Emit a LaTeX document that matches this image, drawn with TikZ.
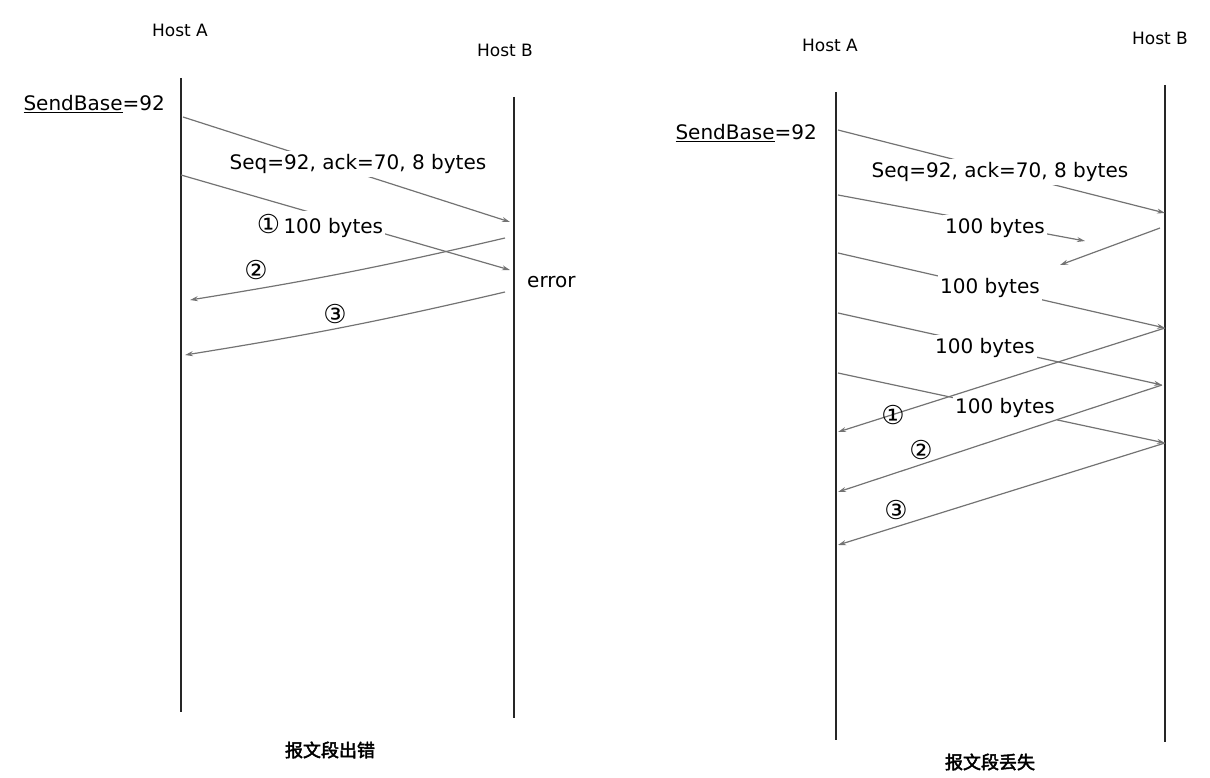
\documentclass[tikz,border=0pt]{standalone}
\usepackage{fontspec}
\setmainfont{DejaVu Sans}
\newfontfamily\cjk[AutoFakeBold=2.5]{Noto Sans CJK SC}
\usetikzlibrary{arrows.meta,positioning}

\begin{document}
\begin{tikzpicture}[
    x=1pt, y=-1pt,
    host/.style={font=\fontsize{17}{20}\selectfont, inner sep=1pt},
    life/.style={line width=1.3pt, black!85},
    msg/.style={line width=1.2pt, black!55, -{Stealth[length=8pt,width=5pt]}},
    lbl/.style={font=\fontsize{20}{24}\selectfont, fill=white, inner xsep=2pt, inner ysep=3pt},
    tag/.style={font=\fontsize{20}{24}\selectfont, inner sep=1pt},
    num/.style={font=\fontsize{26}{28}\selectfont, inner sep=0pt},
    caption/.style={font=\cjk\bfseries\fontsize{18}{21}\selectfont}
]
\useasboundingbox (0,0) rectangle (1210,778);

% Segment error
\node[host] (hostAl) at (180,30) {Host A};
\node[host] (hostBl) at (505,50) {Host B};
\coordinate (Al-top) at (181,78);
\coordinate (Al-bot) at (181,712);
\coordinate (Bl-top) at (514,97);
\coordinate (Bl-bot) at (514,718);
\draw[life] (Al-top) -- (Al-bot);
\draw[life] (Bl-top) -- (Bl-bot);
\node[tag, anchor=east] (baseL) at (166,104) {\underline{SendBase}=92};

\coordinate (Al1) at (183,117);
\coordinate (Bl1) at (510,222);
\coordinate (Al2) at (181,175);
\coordinate (Bl2) at (510,270);
\draw[msg] (Al1) -- (Bl1);
\node[lbl] (seqL) at (358,164) {Seq=92, ack=70, 8 bytes};
\draw[msg] (Al2) -- (Bl2);
\node[lbl] (segL) at (320,226) {{\fontsize{26}{28}\selectfont ①}\,100 bytes};
\node[tag, anchor=west] (err) at (526,282) {error};

% acks back to A
\coordinate (Bl3) at (505,238);
\coordinate (Al3) at (190,300);
\coordinate (Bl4) at (505,292);
\coordinate (Al4) at (185,355);
\draw[msg] (Bl3) to[bend left=2] (Al3);
\draw[msg] (Bl4) to[bend left=2] (Al4);
\node[num] (ackL2) at (256,270) {②};
\node[num] (ackL3) at (335,314) {③};

\node[caption] (capL) at (330,750) {报文段出错};

% Segment loss
\node[host] (hostAr) at (830,45) {Host A};
\node[host] (hostBr) at (1160,38) {Host B};
\coordinate (Ar-top) at (836,92);
\coordinate (Ar-bot) at (836,740);
\coordinate (Br-top) at (1165,85);
\coordinate (Br-bot) at (1165,742);
\draw[life] (Ar-top) -- (Ar-bot);
\draw[life] (Br-top) -- (Br-bot);
\node[tag, anchor=east] (baseR) at (818,133) {\underline{SendBase}=92};

\coordinate (Ar1) at (838,130);
\coordinate (Br1) at (1165,213);
\coordinate (Ar2) at (838,195);
\coordinate (lost) at (1085,241);
\coordinate (Br2) at (1160,228);
\coordinate (ackEnd) at (1060,265);
\coordinate (Ar3) at (838,253);
\coordinate (Br3) at (1165,328);
\coordinate (Ar4) at (838,313);
\coordinate (Br4) at (1162,385);
\coordinate (Ar5) at (838,373);
\coordinate (Br5) at (1165,443);

\draw[msg] (Ar1) -- (Br1);
\node[lbl] (seqR) at (1000,172) {Seq=92, ack=70, 8 bytes};
\draw[msg] (Ar2) -- (lost);
\node[lbl] (segR1) at (995,228) {100 bytes};
\draw[msg] (Br2) -- (ackEnd);
\draw[msg] (Ar3) -- (Br3);
\node[lbl] (segR2) at (990,288) {100 bytes};
\draw[msg] (Ar4) -- (Br4);
\node[lbl] (segR3) at (985,348) {100 bytes};
\draw[msg] (Ar5) -- (Br5);
\node[lbl] (segR4) at (1005,408) {100 bytes};

% duplicate acks
\coordinate (Ar6) at (838,432);
\coordinate (Ar7) at (838,492);
\coordinate (Ar8) at (838,545);
\draw[msg] (Br3) -- (Ar6);
\draw[msg] (Br4) -- (Ar7);
\draw[msg] (Br5) -- (Ar8);
\node[num] (ackR1) at (893,415) {①};
\node[num] (ackR2) at (921,450) {②};
\node[num] (ackR3) at (896,510) {③};

\node[caption] (capR) at (990,762) {报文段丢失};
\end{tikzpicture}
\end{document}
